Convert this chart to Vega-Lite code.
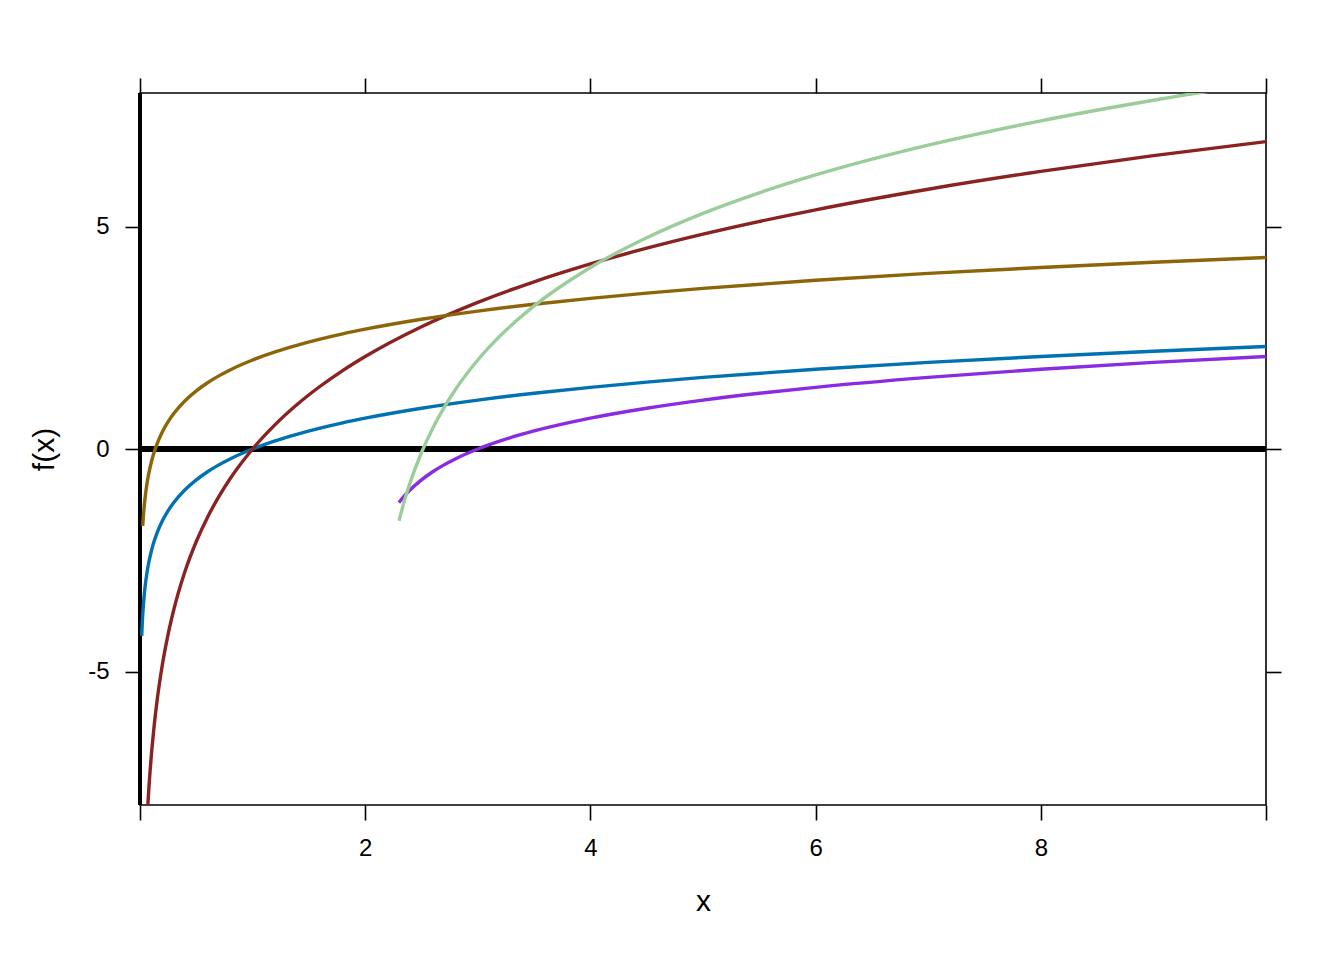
{
  "$schema": "https://vega.github.io/schema/vega-lite/v6.json",
  "width": 1126,
  "height": 712,
  "autosize": {"type": "none"},
  "padding": {"left": 140, "top": 93, "right": 78, "bottom": 155},
  "background": "white",
  "config": {
    "view": {"stroke": "black", "strokeWidth": 1.6},
    "axis": {
      "domain": false,
      "grid": false,
      "tickColor": "black",
      "tickWidth": 1.6,
      "tickSize": 15,
      "labelFont": "Liberation Sans",
      "labelFontSize": 24,
      "labelColor": "black",
      "titleFont": "Liberation Sans",
      "titleFontSize": 30,
      "titleFontWeight": "normal",
      "titleColor": "black"
    }
  },
  "data": {
    "values": [
      {"f": "a", "x": 0.015, "y": -4.200},
      {"f": "a", "x": 0.02, "y": -3.912},
      {"f": "a", "x": 0.025, "y": -3.689},
      {"f": "a", "x": 0.03, "y": -3.507},
      {"f": "a", "x": 0.04, "y": -3.219},
      {"f": "a", "x": 0.05, "y": -2.996},
      {"f": "a", "x": 0.06, "y": -2.813},
      {"f": "a", "x": 0.07, "y": -2.659},
      {"f": "a", "x": 0.08, "y": -2.526},
      {"f": "a", "x": 0.1, "y": -2.303},
      {"f": "a", "x": 0.12, "y": -2.120},
      {"f": "a", "x": 0.15, "y": -1.897},
      {"f": "a", "x": 0.2, "y": -1.609},
      {"f": "a", "x": 0.25, "y": -1.386},
      {"f": "a", "x": 0.3, "y": -1.204},
      {"f": "a", "x": 0.4, "y": -0.916},
      {"f": "a", "x": 0.5, "y": -0.693},
      {"f": "a", "x": 0.6, "y": -0.511},
      {"f": "a", "x": 0.7, "y": -0.357},
      {"f": "a", "x": 0.8, "y": -0.223},
      {"f": "a", "x": 1.0, "y": 0.0},
      {"f": "a", "x": 1.2, "y": 0.182},
      {"f": "a", "x": 1.4, "y": 0.336},
      {"f": "a", "x": 1.6, "y": 0.470},
      {"f": "a", "x": 1.8, "y": 0.588},
      {"f": "a", "x": 2.0, "y": 0.693},
      {"f": "a", "x": 2.5, "y": 0.916},
      {"f": "a", "x": 3.0, "y": 1.099},
      {"f": "a", "x": 3.5, "y": 1.253},
      {"f": "a", "x": 4.0, "y": 1.386},
      {"f": "a", "x": 4.5, "y": 1.504},
      {"f": "a", "x": 5.0, "y": 1.609},
      {"f": "a", "x": 6.0, "y": 1.792},
      {"f": "a", "x": 7.0, "y": 1.946},
      {"f": "a", "x": 8.0, "y": 2.079},
      {"f": "a", "x": 9.0, "y": 2.197},
      {"f": "a", "x": 10.0, "y": 2.303},

      {"f": "b", "x": 0.06, "y": -8.440},
      {"f": "b", "x": 0.07, "y": -7.978},
      {"f": "b", "x": 0.08, "y": -7.577},
      {"f": "b", "x": 0.09, "y": -7.224},
      {"f": "b", "x": 0.1, "y": -6.908},
      {"f": "b", "x": 0.12, "y": -6.361},
      {"f": "b", "x": 0.15, "y": -5.691},
      {"f": "b", "x": 0.2, "y": -4.828},
      {"f": "b", "x": 0.25, "y": -4.159},
      {"f": "b", "x": 0.3, "y": -3.612},
      {"f": "b", "x": 0.4, "y": -2.749},
      {"f": "b", "x": 0.5, "y": -2.079},
      {"f": "b", "x": 0.6, "y": -1.532},
      {"f": "b", "x": 0.7, "y": -1.070},
      {"f": "b", "x": 0.8, "y": -0.669},
      {"f": "b", "x": 1.0, "y": 0.0},
      {"f": "b", "x": 1.2, "y": 0.547},
      {"f": "b", "x": 1.4, "y": 1.010},
      {"f": "b", "x": 1.6, "y": 1.410},
      {"f": "b", "x": 1.8, "y": 1.763},
      {"f": "b", "x": 2.0, "y": 2.079},
      {"f": "b", "x": 2.5, "y": 2.749},
      {"f": "b", "x": 3.0, "y": 3.296},
      {"f": "b", "x": 3.5, "y": 3.758},
      {"f": "b", "x": 4.0, "y": 4.159},
      {"f": "b", "x": 4.5, "y": 4.512},
      {"f": "b", "x": 5.0, "y": 4.828},
      {"f": "b", "x": 6.0, "y": 5.375},
      {"f": "b", "x": 7.0, "y": 5.838},
      {"f": "b", "x": 8.0, "y": 6.238},
      {"f": "b", "x": 9.0, "y": 6.592},
      {"f": "b", "x": 10.0, "y": 6.908},

      {"f": "c", "x": 0.024, "y": -1.730},
      {"f": "c", "x": 0.03, "y": -1.507},
      {"f": "c", "x": 0.04, "y": -1.219},
      {"f": "c", "x": 0.05, "y": -0.996},
      {"f": "c", "x": 0.06, "y": -0.813},
      {"f": "c", "x": 0.07, "y": -0.659},
      {"f": "c", "x": 0.08, "y": -0.526},
      {"f": "c", "x": 0.1, "y": -0.303},
      {"f": "c", "x": 0.12, "y": -0.120},
      {"f": "c", "x": 0.15, "y": 0.103},
      {"f": "c", "x": 0.2, "y": 0.391},
      {"f": "c", "x": 0.25, "y": 0.614},
      {"f": "c", "x": 0.3, "y": 0.796},
      {"f": "c", "x": 0.4, "y": 1.084},
      {"f": "c", "x": 0.5, "y": 1.307},
      {"f": "c", "x": 0.6, "y": 1.489},
      {"f": "c", "x": 0.7, "y": 1.643},
      {"f": "c", "x": 0.8, "y": 1.777},
      {"f": "c", "x": 1.0, "y": 2.0},
      {"f": "c", "x": 1.2, "y": 2.182},
      {"f": "c", "x": 1.4, "y": 2.336},
      {"f": "c", "x": 1.6, "y": 2.470},
      {"f": "c", "x": 1.8, "y": 2.588},
      {"f": "c", "x": 2.0, "y": 2.693},
      {"f": "c", "x": 2.5, "y": 2.916},
      {"f": "c", "x": 3.0, "y": 3.099},
      {"f": "c", "x": 3.5, "y": 3.253},
      {"f": "c", "x": 4.0, "y": 3.386},
      {"f": "c", "x": 4.5, "y": 3.504},
      {"f": "c", "x": 5.0, "y": 3.609},
      {"f": "c", "x": 6.0, "y": 3.792},
      {"f": "c", "x": 7.0, "y": 3.946},
      {"f": "c", "x": 8.0, "y": 4.079},
      {"f": "c", "x": 9.0, "y": 4.197},
      {"f": "c", "x": 10.0, "y": 4.303},

      {"f": "d", "x": 2.3, "y": -1.204},
      {"f": "d", "x": 2.35, "y": -1.050},
      {"f": "d", "x": 2.4, "y": -0.916},
      {"f": "d", "x": 2.5, "y": -0.693},
      {"f": "d", "x": 2.6, "y": -0.511},
      {"f": "d", "x": 2.7, "y": -0.357},
      {"f": "d", "x": 2.8, "y": -0.223},
      {"f": "d", "x": 3.0, "y": 0.0},
      {"f": "d", "x": 3.2, "y": 0.182},
      {"f": "d", "x": 3.5, "y": 0.405},
      {"f": "d", "x": 4.0, "y": 0.693},
      {"f": "d", "x": 4.5, "y": 0.916},
      {"f": "d", "x": 5.0, "y": 1.099},
      {"f": "d", "x": 5.5, "y": 1.253},
      {"f": "d", "x": 6.0, "y": 1.386},
      {"f": "d", "x": 7.0, "y": 1.609},
      {"f": "d", "x": 8.0, "y": 1.792},
      {"f": "d", "x": 9.0, "y": 1.946},
      {"f": "d", "x": 10.0, "y": 2.079},

      {"f": "e", "x": 2.3, "y": -1.612},
      {"f": "e", "x": 2.35, "y": -1.149},
      {"f": "e", "x": 2.4, "y": -0.749},
      {"f": "e", "x": 2.5, "y": -0.079},
      {"f": "e", "x": 2.6, "y": 0.468},
      {"f": "e", "x": 2.7, "y": 0.930},
      {"f": "e", "x": 2.8, "y": 1.331},
      {"f": "e", "x": 3.0, "y": 2.0},
      {"f": "e", "x": 3.2, "y": 2.547},
      {"f": "e", "x": 3.5, "y": 3.216},
      {"f": "e", "x": 4.0, "y": 4.079},
      {"f": "e", "x": 4.5, "y": 4.749},
      {"f": "e", "x": 5.0, "y": 5.296},
      {"f": "e", "x": 5.5, "y": 5.758},
      {"f": "e", "x": 6.0, "y": 6.159},
      {"f": "e", "x": 7.0, "y": 6.828},
      {"f": "e", "x": 8.0, "y": 7.375},
      {"f": "e", "x": 9.0, "y": 7.838},
      {"f": "e", "x": 10.0, "y": 8.238}
    ]
  },
  "resolve": {"axis": {"x": "independent", "y": "independent"}},
  "layer": [
    {
      "mark": {"type": "rule", "color": "black", "strokeWidth": 4},
      "encoding": {
        "x": {
          "datum": 0,
          "type": "quantitative",
          "scale": {"domain": [0, 10], "nice": false, "zero": false},
          "axis": {"orient": "top", "values": [0, 2, 4, 6, 8, 10], "labels": false, "title": null}
        }
      }
    },
    {
      "mark": {"type": "rule", "color": "black", "strokeWidth": 5},
      "encoding": {
        "y": {
          "datum": 0,
          "type": "quantitative",
          "scale": {"domain": [-8, 8], "nice": false, "zero": false},
          "axis": {"orient": "right", "values": [-5, 0, 5], "labels": false, "title": null}
        }
      }
    },
    {
      "mark": {"type": "line", "strokeWidth": 3.4, "clip": true, "interpolate": "monotone"},
      "encoding": {
        "x": {
          "field": "x",
          "type": "quantitative",
          "scale": {"domain": [0, 10], "nice": false, "zero": false},
          "axis": {
            "orient": "bottom",
            "values": [0, 2, 4, 6, 8, 10],
            "labelExpr": "datum.value == 0 || datum.value == 10 ? '' : datum.label",
            "labelPadding": 16,
            "labelFlush": false,
            "title": "x",
            "titlePadding": 26
          }
        },
        "y": {
          "field": "y",
          "type": "quantitative",
          "scale": {"domain": [-8, 8], "nice": false, "zero": false},
          "axis": {
            "orient": "left",
            "values": [-5, 0, 5],
            "labelExpr": "datum.value < 0 ? '-' + abs(datum.value) : datum.label",
            "labelPadding": 16,
            "labelFlush": false,
            "title": "f(x)",
            "titlePadding": 28
          }
        },
        "color": {
          "field": "f",
          "type": "nominal",
          "scale": {
            "domain": ["a", "b", "c", "d", "e"],
            "range": ["#0072B2", "#8B2222", "#8B6508", "#8A2BE2", "#9ACD9A"]
          },
          "legend": null
        },
        "order": {"field": "x", "type": "quantitative"}
      }
    }
  ]
}
